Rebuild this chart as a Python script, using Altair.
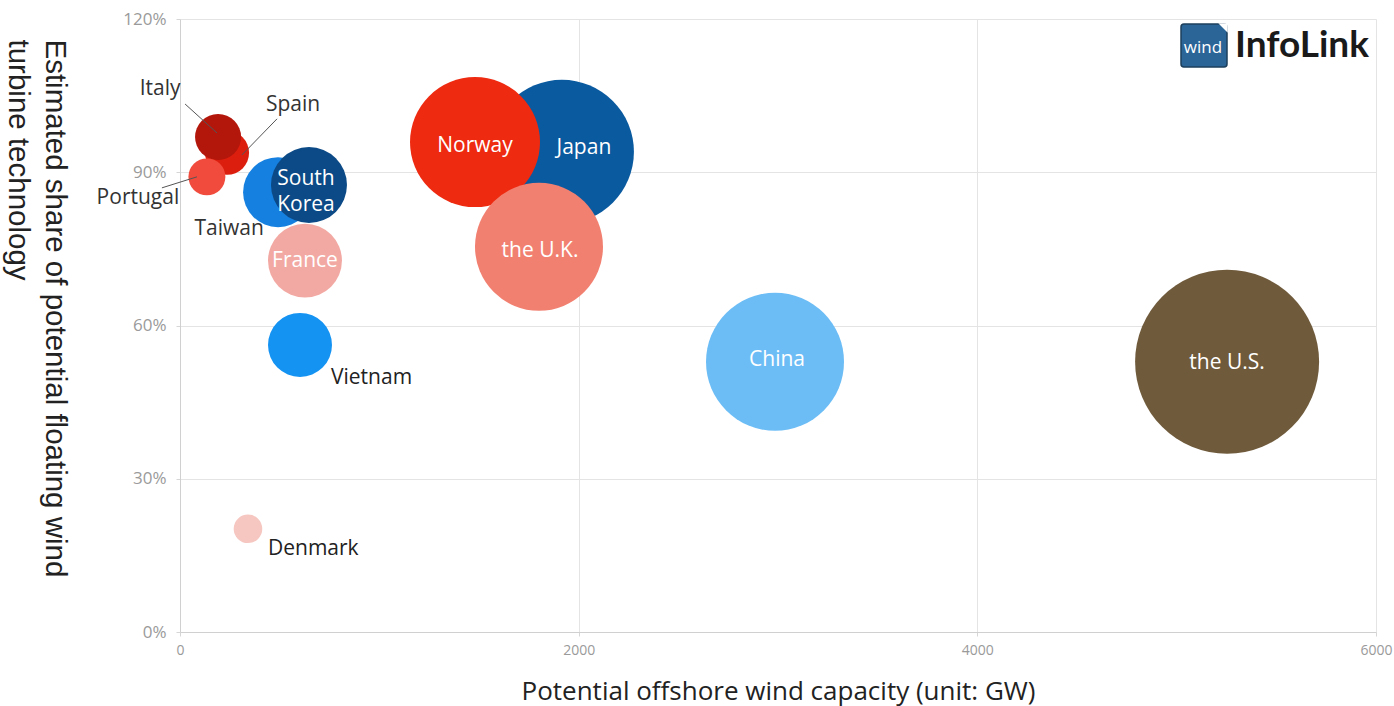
import altair as alt
import pandas as pd

# Bubble data: potential offshore wind capacity, estimated floating share,
# and the resulting floating-turbine potential (bubble area).
countries = ["the U.S.", "China", "Japan", "Norway", "the U.K.", "Taiwan",
             "South Korea", "France", "Vietnam", "Spain", "Italy", "Portugal",
             "Denmark"]
capacity_gw = [5253, 2985, 1916, 1480, 1801, 492, 647, 627, 602, 236, 191, 135, 341]
floating_share = [0.529, 0.529, 0.940, 0.959, 0.754, 0.861, 0.875, 0.727, 0.562,
                  0.938, 0.969, 0.891, 0.202]
floating_gw = [2779, 1563, 1702, 1387, 1345, 402, 474, 449, 336, 159, 174, 112, 67]

bubble_colors = ["#6F5A3B", "#6CBDF6", "#0A5AA0", "#EE2A10", "#F28071", "#1580E0",
                 "#0B4A86", "#F3A9A3", "#1593F3", "#DC1E0E", "#B3160B", "#F04B3C",
                 "#F6C7C1"]

df = pd.DataFrame({
    "country": countries,
    "capacity": capacity_gw,
    "share": floating_share,
    "floating": floating_gw,
})
df["draw"] = range(len(df))

W, H = 1196, 613
FONT = "Open Sans"

x_enc = alt.X("capacity:Q",
              scale=alt.Scale(domain=[0, 6000], nice=False, zero=True),
              axis=alt.Axis(values=[0, 2000, 4000, 6000], format="d", labelFlush=False,
                            title="Potential offshore wind capacity (unit: GW)",
                            titleFont=FONT, titleFontSize=26, titleFontWeight="normal",
                            titleColor="#222222", titleBaseline="middle", titleY=59,
                            labelFont=FONT, labelFontSize=14, labelColor="#9a9a9a",
                            labelPadding=7, tickSize=4, tickColor="#d6d6d6",
                            domainColor="#d0d0d0", gridColor="#e4e4e4"))
y_enc = alt.Y("share:Q",
              scale=alt.Scale(domain=[0, 1.2], nice=False, zero=True),
              axis=alt.Axis(values=[0, 0.3, 0.6, 0.9, 1.2], format=".0%",
                            title=["Estimated share of potential floating wind",
                                   "turbine technology"],
                            titleFont="Liberation Sans", titleFontSize=29.5,
                            titleFontWeight="normal",
                            titleColor="#222222", titleAngle=90, titleAlign="left",
                            titleBaseline="top", titleX=-112, titleY=20,
                            titleLineHeight=37,
                            labelFont=FONT, labelFontSize=17, labelColor="#9a9a9a",
                            labelPadding=10, tickSize=4, tickColor="#d6d6d6",
                            domainColor="#d0d0d0", gridColor="#e4e4e4"))

base = alt.Chart(df)

bubbles = base.mark_circle(opacity=1, strokeWidth=0).encode(
    x=x_enc,
    y=y_enc,
    color=alt.Color("country:N", scale=alt.Scale(domain=countries, range=bubble_colors),
                    legend=None),
    size=alt.Size("floating:Q",
                  scale=alt.Scale(domain=[0, max(floating_gw)], range=[0, 33856]),
                  legend=None),
    order=alt.Order("draw:Q"),
)

# Label placement: (dx, dy, colour, align)
label_style = {
    "the U.S.": (0, 1, "white", "center"),
    "China": (2, -2, "white", "center"),
    "Japan": (22, -4, "white", "center"),
    "Norway": (0, 4, "white", "center"),
    "the U.K.": (1, 4, "white", "center"),
    "South Korea": (-3, -6, "white", "center"),
    "France": (0, 0, "white", "center"),
    "Taiwan": (-49, 37, "#333333", "center"),
    "Vietnam": (31, 33, "#222222", "left"),
    "Denmark": (20, 20, "#222222", "left"),
    "Italy": (-58, -48, "#333333", "center"),
    "Spain": (66, -48, "#333333", "center"),
    "Portugal": (-69, 21, "#333333", "center"),
}

layers = [bubbles]

# Leader lines from the outside labels into their bubbles
leaders = {
    "Italy": (-33, -33, -1, -4),
    "Spain": (50, -34, 15, 2),
    "Portugal": (-45, 11, -10, 0),
}
for name, (sx, sy, ex, ey) in leaders.items():
    layers.append(
        base.transform_filter(alt.datum.country == name).mark_rule(
            color="#555555", strokeWidth=1,
            xOffset=sx, yOffset=sy, x2Offset=ex, y2Offset=ey,
        ).encode(x="capacity:Q", y="share:Q", x2="capacity:Q", y2="share:Q")
    )

for name, (dx, dy, col, align) in label_style.items():
    layers.append(
        base.transform_filter(alt.datum.country == name).mark_text(
            font=FONT, fontSize=21, color=col, align=align, baseline="middle",
            dx=dx, dy=dy, lineBreak=" " if name == "South Korea" else "\n",
            lineHeight=26,
        ).encode(x="capacity:Q", y="share:Q", text="country:N")
    )

# Brand mark in the upper right corner
logo_data = alt.Data(values=[{"k": 1}])
icon = alt.Chart(logo_data).mark_rect(
    color="#2B6597", stroke="#1d3f5c", strokeWidth=1.5, cornerRadius=3
).encode(x=alt.value(1001), x2=alt.value(1047), y=alt.value(5), y2=alt.value(48))
fold = alt.Chart(logo_data).mark_point(
    shape="M -1 -1 L 1 -1 L 1 1 Z", filled=True, fill="white", opacity=1,
    size=90, strokeWidth=0
).encode(x=alt.value(1043), y=alt.value(9))
icon_text = alt.Chart(logo_data).mark_text(
    font=FONT, fontSize=17, color="white", align="center", baseline="middle"
).encode(x=alt.value(1023), y=alt.value(29), text=alt.value("wind"))
brand = alt.Chart(logo_data).mark_text(
    font="Lato", fontSize=37, fontWeight="bold", color="#1a1a1a",
    align="left", baseline="middle"
).encode(x=alt.value(1055), y=alt.value(27), text=alt.value("InfoLink"))
layers += [icon, fold, icon_text, brand]

chart = alt.layer(*layers).properties(
    width=W, height=H,
    autosize=alt.AutoSizeParams(type="none"),
    padding={"left": 180, "top": 19, "right": 18, "bottom": 74},
    background="white",
).configure_view(stroke=None)

chart.save("out.html", embed_options={"renderer": "svg", "actions": False})
